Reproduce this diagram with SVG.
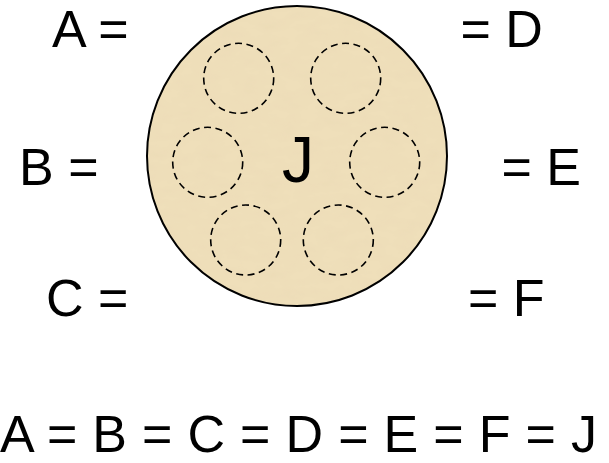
<svg xmlns="http://www.w3.org/2000/svg" width="609" height="463" viewBox="0 0 609 463">
<defs>
<filter id="parch" x="0" y="0" width="100%" height="100%">
<feTurbulence type="fractalNoise" baseFrequency="0.05 0.1" numOctaves="3" seed="4" result="n"/>
<feColorMatrix in="n" type="matrix" values="0 0 0 0 0.8  0 0 0 0 0.68  0 0 0 0 0.45  0 0 0 0.6 -0.22" result="c"/>
<feComposite in="c" in2="SourceGraphic" operator="in" result="t"/>
<feMerge><feMergeNode in="SourceGraphic"/><feMergeNode in="t"/></feMerge>
</filter>
</defs>
<style>
.lbl{font-family:"Liberation Sans",Arial,sans-serif;font-size:52px;fill:#000}
.big{font-family:"Liberation Sans",Arial,sans-serif;font-size:64px;fill:#000}
.sub{fill:none;stroke:#000;stroke-width:1.6;stroke-dasharray:7 4.5}
</style>
<rect width="609" height="463" fill="#fff"/>
<g id="J">
<circle cx="297" cy="156" r="150" fill="#EFDFBA" filter="url(#parch)"/>
<circle cx="297" cy="156" r="150" fill="none" stroke="#000" stroke-width="2"/>
<text class="big" x="298" y="182" text-anchor="middle">J</text>
</g>
<g id="sub-A"><circle class="sub" cx="238.7" cy="78.3" r="35"/></g>
<g id="sub-D"><circle class="sub" cx="345.7" cy="78.3" r="35"/></g>
<g id="sub-B"><circle class="sub" cx="207.7" cy="162.3" r="35"/></g>
<g id="sub-E"><circle class="sub" cx="384.7" cy="162.3" r="35"/></g>
<g id="sub-C"><circle class="sub" cx="245.7" cy="240" r="35"/></g>
<g id="sub-F"><circle class="sub" cx="338.3" cy="240" r="35"/></g>
<g id="labels">
<text class="lbl" x="52" y="47">A =</text>
<text class="lbl" x="19" y="185">B =</text>
<text class="lbl" x="46" y="316">C =</text>
<text class="lbl" x="460.5" y="47">= D</text>
<text class="lbl" x="501.5" y="185">= E</text>
<text class="lbl" x="468" y="316">= F</text>
<text class="lbl" x="0" y="452" textLength="597" lengthAdjust="spacing">A = B = C = D = E = F = J</text>
</g>
<g id="connectors"/>
</svg>
